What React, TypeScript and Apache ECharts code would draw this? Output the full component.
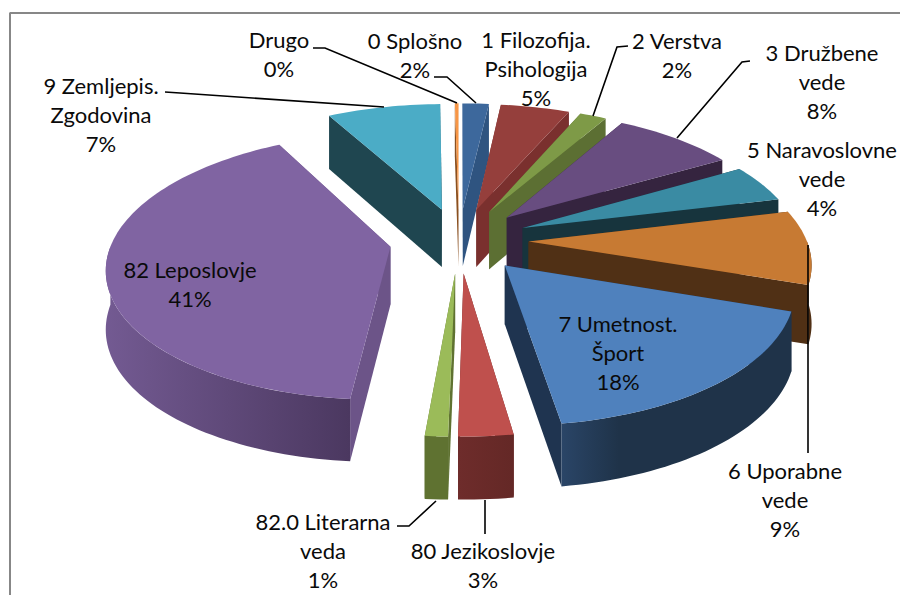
import React, { useEffect, useRef } from "react";
import * as echarts from "echarts";

// ---- data (clockwise from 12 o'clock) ----
const names = [
  "0 Splošno", "1 Filozofija.\nPsihologija", "2 Verstva", "3 Družbene\nvede",
  "5 Naravoslovne\nvede", "6 Uporabne\nvede", "7 Umetnost.\nŠport", "80 Jezikoslovje",
  "82.0 Literarna\nveda", "82 Leposlovje", "9 Zemljepis.\nZgodovina", "Drugo",
];
const shares = [1.8, 4.7, 1.8, 8.3, 4.6, 9.0, 17.47, 2.63, 1.1, 40.65, 7.7, 0.25];
const percentLabels = ["2%", "5%", "2%", "8%", "4%", "9%", "18%", "3%", "1%", "41%", "7%", "0%"];

// ---- styles ----
const topColors = ["#3D689C", "#953F3C", "#7E9A47", "#684D80", "#3A8BA3", "#C77A33", "#4F81BD", "#BF504D", "#9BBB59", "#8064A2", "#4BACC6", "#F79646"];
const sideColors = ["#2F5480", "#7A302E", "#5C6F33", "#35243F", "#17343D", "#503015", "#1F3450", "#6B2A29", "#5F7231", "#6C5488", "#1F4650", "#8A5020"];
const rimLeft = ["#2F5480", "#7A302E", "#5C6F33", "#35243F", "#17343D", "#503015", "#2A4567", "#6E2C2B", "#5F7231", "#735A92", "#1F4650", "#8A5020"];
const rimRight = ["#2F5480", "#7A302E", "#5C6F33", "#35243F", "#17343D", "#503015", "#1F3349", "#642826", "#5F7231", "#4B3860", "#1F4650", "#8A5020"];

// label layout: centre x, first-line centre y
const labelAt: [number, number][] = [
  [415, 41], [536, 40], [677, 41], [822, 53], [822, 150], [785, 471], [618, 324], [483, 551], [323, 522], [190, 270], [101, 86], [279, 40],
];
const leaders: ([number, number][] | null)[] = [
  [[434, 77], [447, 77], [476, 103]],
  null,
  [[628, 46], [617, 47], [593, 116]],
  [[750, 61], [742, 62], [677, 138]],
  null,
  [[808, 245], [808, 453]],
  null,
  [[485, 500], [485, 534]],
  [[397, 526], [409, 526], [436, 501]],
  null,
  [[165, 92], [180, 93], [384, 107]],
  [[313, 48], [325, 48], [457, 103]],
];

// projection of the exploded disc
const CX = 459, CY = 240, SCALE_X = 278, SCALE_Y = 129, PERSP = 0.144, EXPLODE = 0.25, DEPTH = 58, DEPTH_P = 0.07;
const RAD = Math.PI / 180;
const total = shares.reduce((a, b) => a + b, 0);

function project(u: number, v: number, z: number): number[] {
  const w = 1 - PERSP * v;
  return [CX + (SCALE_X * u) / w, CY + (SCALE_Y * v) / w + z * DEPTH * (1 + DEPTH_P * v)];
}

function sliceShapes(a: number, b: number, idx: number, rank: number) {
  const mid = ((a + b) / 2) * RAD;
  const ex = EXPLODE * Math.sin(mid), ey = -EXPLODE * Math.cos(mid);
  const rimPt = (deg: number, z: number) => project(ex + Math.sin(deg * RAD), ey - Math.cos(deg * RAD), z);
  const arc = (from: number, to: number, z: number) => {
    const n = Math.max(2, Math.ceil(Math.abs(to - from) / 1.5));
    const pts: number[][] = [];
    for (let i = 0; i <= n; i++) pts.push(rimPt(from + ((to - from) * i) / n, z));
    return pts;
  };
  const apexTop = project(ex, ey, 0), apexBot = project(ex, ey, 1);
  const out: any[] = [];
  const silent = true;
  const side = (deg: number, z2: number) => out.push({
    type: "polygon", silent, z2,
    shape: { points: [apexTop, rimPt(deg, 0), rimPt(deg, 1), apexBot] },
    style: { fill: sideColors[idx] },
  });
  side(a, rank * 10);
  side(b, rank * 10 + 1);
  const ra = Math.max(a, 90), rb = Math.min(b, 270);
  if (rb > ra) {
    out.push({
      type: "polygon", silent, z2: rank * 10 + 2,
      shape: { points: [...arc(ra, rb, 0), ...arc(rb, ra, 1)] },
      style: {
        fill: new echarts.graphic.LinearGradient(0, 0, 1, 0, [
          { offset: 0, color: rimLeft[idx] },
          { offset: idx === 6 ? 0.25 : 1, color: rimRight[idx] },
          { offset: 1, color: rimRight[idx] },
        ]),
      },
    });
  }
  out.push({
    type: "polygon", silent, z2: rank * 10 + 3,
    shape: { points: [apexTop, ...arc(a, b, 0)] },
    style: { fill: topColors[idx] },
  });
  return out;
}

const rows: number[][] = [];
{
  let acc = 0;
  shares.forEach((s, i) => {
    rows.push([(acc / total) * 360, ((acc + s) / total) * 360, i]);
    acc += s;
  });
}
const depthRank = rows
  .map((r) => ({ i: r[2], d: Math.abs((r[0] + r[1]) / 2 - 180) }))
  .sort((p, q) => q.d - p.d)
  .map((o) => o.i);

export default function App() {
  const ref = useRef<HTMLDivElement>(null);
  useEffect(() => {
    const chart = echarts.init(ref.current!, undefined, { renderer: "svg" });
    const textEls: any[] = names.map((n, i) => ({
      type: "text",
      x: labelAt[i][0],
      y: labelAt[i][1],
      z: 20,
      style: {
        text: n + "\n" + percentLabels[i],
        fontFamily: "Lato",
        fontSize: 22,
        lineHeight: 29,
        fill: "#0A0A0A",
        align: "center",
        verticalAlign: "top",
        y: -15.5,
      },
    }));
    const lineEls: any[] = leaders
      .filter((l) => l)
      .map((l) => ({
        type: "polyline",
        z: 15,
        shape: { points: l },
        style: { stroke: "#000000", lineWidth: 1.6, fill: "none" },
      }));
    chart.setOption({
      animation: false,
      backgroundColor: "#FFFFFF",
      graphic: [
        { type: "line", z: 1, shape: { x1: 9.5, y1: 13, x2: 900, y2: 13 }, style: { stroke: "#878787", lineWidth: 2 } },
        { type: "line", z: 1, shape: { x1: 10, y1: 13, x2: 10, y2: 595 }, style: { stroke: "#878787", lineWidth: 2 } },
        ...lineEls,
        ...textEls,
      ],
      series: [
        {
          type: "custom",
          coordinateSystem: "none",
          silent: true,
          z: 5,
          data: rows,
          renderItem: (_: any, api: any) => {
            const idx = api.value(2);
            return {
              type: "group",
              children: sliceShapes(api.value(0), api.value(1), idx, depthRank.indexOf(idx)),
            };
          },
        },
      ],
    });
    return () => chart.dispose();
  }, []);
  return (
    <div
      ref={ref}
      style={{ position: "fixed", left: 0, top: 0, width: 900, height: 595 }}
    />
  );
}
